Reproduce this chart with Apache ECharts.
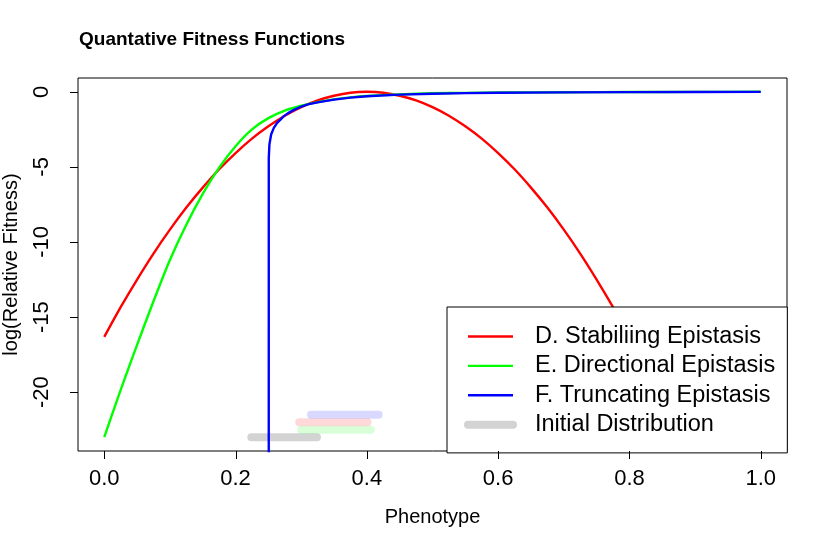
<!DOCTYPE html>
<html><head><meta charset="utf-8">
<script src="https://cdn.jsdelivr.net/npm/echarts@6/dist/echarts.min.js"></script>
<style>html,body{margin:0;padding:0;background:#fff}#c{width:828px;height:549px}</style>
</head><body><div id="c"></div>
<script>
// ---------- data ----------
const stabX = [0,0.025,0.05,0.075,0.1,0.125,0.15,0.175,0.2,0.225,0.25,0.275,0.3,0.325,0.35,0.375,0.4,
  0.425,0.45,0.475,0.5,0.525,0.55,0.575,0.6,0.625,0.65,0.675,0.7,0.725,0.75,0.775,0.8,0.825,0.85,0.875,0.9];
const stabFitness = [-16.32,-14.34,-12.50,-10.77,-9.18,-7.71,-6.38,-5.16,-4.08,-3.12,-2.30,-1.59,-1.02,-0.57,-0.26,-0.06,0,
  -0.06,-0.26,-0.57,-1.02,-1.59,-2.30,-3.12,-4.08,-5.16,-6.38,-7.71,-9.18,-10.77,-12.50,-14.34,-16.32,-18.42,-20.66,-23.01,-25.5];

const dirX = [0,0.025,0.05,0.075,0.1,0.125,0.15,0.175,0.2,0.225,0.25,0.275,0.3,0.325,0.35,0.375,0.4,0.45,0.5,0.55,0.6,0.7,0.8,0.9,1.0];
const dirFitness = [-23.0,-19.85,-16.85,-13.95,-11.2,-8.85,-6.8,-5.05,-3.62,-2.5,-1.75,-1.25,-0.93,-0.69,-0.5,-0.37,-0.28,-0.17,-0.1,-0.07,-0.05,-0.025,-0.012,-0.005,0];

const truncX = [0.2505,0.2506,0.2516,0.2542,0.2583,0.2633,0.27,0.2735,0.28,0.289,0.3,0.31,0.325,0.35,0.375,0.4,0.45,0.5,0.55,0.6,0.7,0.8,0.9,1.0];
const truncFitness = [-60,-4.4,-3.5,-2.84,-2.4,-2.07,-1.78,-1.62,-1.42,-1.2,-0.98,-0.84,-0.70,-0.52,-0.39,-0.30,-0.19,-0.13,-0.09,-0.065,-0.035,-0.02,-0.01,-0.005];

// initial distributions: [from, to] phenotype range, and the level they are drawn at
const initGrayRange = [0.224, 0.324];  const initGrayLevel = -23.0;
const initGreenRange = [0.300, 0.406]; const initGreenLevel = -22.5;
const initRedRange = [0.297, 0.401];   const initRedLevel = -22.0;
const initBlueRange = [0.315, 0.418];  const initBlueLevel = -21.5;

const xTicks = [0, 0.2, 0.4, 0.6, 0.8, 1.0];
const yTicks = [-20, -15, -10, -5, 0];
const legendNames = ['D. Stabiliing Epistasis','E. Directional Epistasis','F. Truncating Epistasis','Initial Distribution'];

// ---------- chart ----------
const F = 'Liberation Sans, Arial, Helvetica, sans-serif';
const TICK_LEN = 8;
const X_MIN = -0.04, X_MAX = 1.04, Y_MIN = -23.92, Y_MAX = 0.92;
const pairs = (xs, ys) => xs.map((x, i) => [x, ys[i]]);
const seg = (r, lvl) => [[r[0], lvl], [r[1], lvl]];

function curve(name, data, color, smooth) {
  return { name, type: 'line', data, symbol: 'none', smooth: smooth ? 0.3 : false,
    clip: true, silent: true,
    lineStyle: { color, width: 2.4 }, itemStyle: { color }, z: 3 };
}
function bar(name, data, color) {
  return { name, type: 'line', data, symbol: 'none', clip: true, silent: true,
    lineStyle: { color, width: 8, cap: 'round' }, itemStyle: { color }, z: 2 };
}

const chart = echarts.init(document.getElementById('c'), null, { renderer: 'canvas' });
chart.setOption({
  animation: false,
  backgroundColor: '#fff',
  title: { text: 'Quantative Fitness Functions', left: 79, top: 30, padding: 0,
    textStyle: { fontSize: 19, fontWeight: 'bold', color: '#000', fontFamily: F } },
  grid: { left: 78, right: 41, top: 78, bottom: 98, show: true, borderColor: '#000', borderWidth: 1,
    backgroundColor: 'transparent', containLabel: false, outerBoundsMode: 'none' },
  xAxis: { type: 'value', min: X_MIN, max: X_MAX, position: 'bottom',
    name: 'Phenotype', nameLocation: 'middle', nameGap: 56,
    nameTextStyle: { fontSize: 20, color: '#000', fontFamily: F },
    axisLine: { show: false, onZero: false }, splitLine: { show: false },
    axisTick: { show: false },
    axisLabel: { customValues: xTicks, formatter: v => v.toFixed(1), margin: 17, fontSize: 22, color: '#000', fontFamily: F } },
  yAxis: { type: 'value', min: Y_MIN, max: Y_MAX, position: 'left',
    name: 'log(Relative Fitness)', nameLocation: 'middle', nameGap: 57, nameRotate: 90,
    nameTextStyle: { fontSize: 20, color: '#000', fontFamily: F },
    axisLine: { show: false, onZero: false }, splitLine: { show: false },
    axisTick: { show: false },
    axisLabel: { customValues: yTicks, rotate: 90, margin: 25, fontSize: 22, color: '#000', fontFamily: F } },
  legend: {
    orient: 'vertical', left: 447, top: 307,
    padding: [17.5, 12, 16.2, 17],
    itemWidth: 45, itemHeight: 14, itemGap: 5.4,
    backgroundColor: '#fff', borderColor: '#000', borderWidth: 1, borderRadius: 0,
    selectedMode: false, z: 10,
    itemStyle: { opacity: 0 },
    textStyle: { fontSize: 23.5, color: '#000', fontFamily: F, padding: [0, 0, 0, 17] },
    data: [
      { name: legendNames[0], lineStyle: { width: 2.4, opacity: 1 } },
      { name: legendNames[1], lineStyle: { width: 2.4, opacity: 1 } },
      { name: legendNames[2], lineStyle: { width: 2.4, opacity: 1 } },
      { name: legendNames[3], lineStyle: { width: 8, cap: 'round', opacity: 1 } }
    ]
  },
  series: [
    bar(legendNames[3], seg(initGrayRange, initGrayLevel), '#d3d3d3'),
    bar('init directional', seg(initGreenRange, initGreenLevel), 'rgba(0,255,0,0.15)'),
    bar('init stabilizing', seg(initRedRange, initRedLevel), 'rgba(255,0,0,0.15)'),
    bar('init truncating', seg(initBlueRange, initBlueLevel), 'rgba(0,0,255,0.15)'),
    curve(legendNames[0], pairs(stabX, stabFitness), '#ff0000', true),
    curve(legendNames[1], pairs(dirX, dirFitness), '#00ff00', true),
    curve(legendNames[2], pairs(truncX, truncFitness), '#0000ff', false)
  ]
});

// outward tick marks on the frame, positioned through the chart's own axis scales
const tickEls = [];
xTicks.forEach(v => {
  const p = chart.convertToPixel({ gridIndex: 0 }, [v, Y_MIN]);
  const x = Math.round(p[0]) + 0.5, y = Math.round(p[1]);
  tickEls.push({ type: 'line', z: 100, silent: true,
    shape: { x1: x, y1: y, x2: x, y2: y + TICK_LEN }, style: { stroke: '#000', lineWidth: 1 } });
});
yTicks.forEach(v => {
  const p = chart.convertToPixel({ gridIndex: 0 }, [X_MIN, v]);
  const x = Math.round(p[0]), y = Math.round(p[1]) + 0.5;
  tickEls.push({ type: 'line', z: 100, silent: true,
    shape: { x1: x, y1: y, x2: x - TICK_LEN, y2: y }, style: { stroke: '#000', lineWidth: 1 } });
});
chart.setOption({ graphic: { elements: tickEls } });
</script></body></html>
